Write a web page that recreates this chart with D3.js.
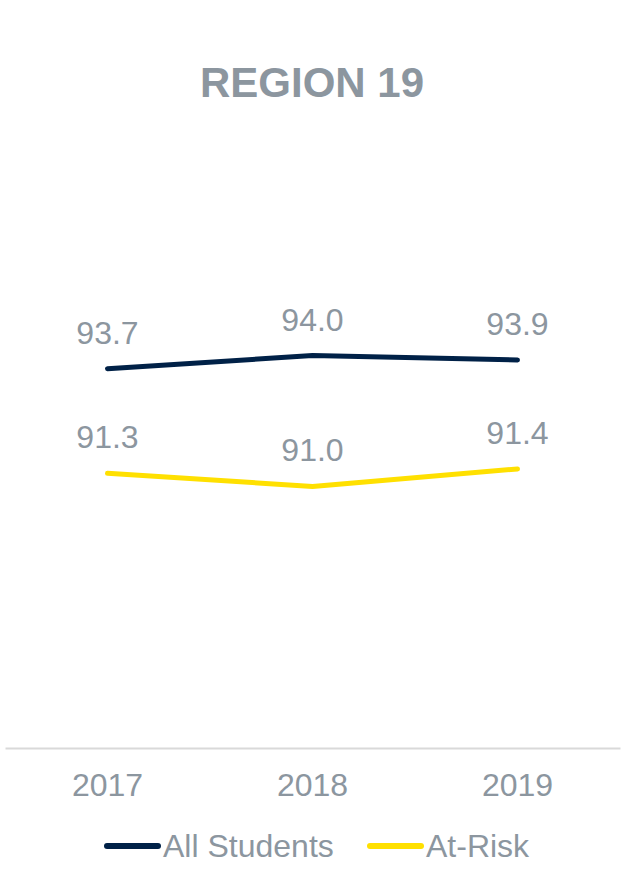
<!DOCTYPE html>
<html><head><meta charset="utf-8">
<script src="https://cdn.jsdelivr.net/npm/d3@7"></script>
<style>body{margin:0;background:#fff}svg{display:block}text{font-family:"Liberation Sans",Arial,sans-serif}</style>
</head><body>
<script>
const title = "REGION 19";
const years = ["2017","2018","2019"];
const allStudents = [93.7, 94.0, 93.9];
const atRisk = [91.3, 91.0, 91.4];
const seriesNames = ["All Students","At-Risk"];
const seriesColors = ["#002147","#FFE000"];

const W=638,H=876;
const svg=d3.select("body").append("svg").attr("width",W).attr("height",H);
const grey="#8C969F";
const x=d3.scaleBand().domain(years).range([5,620]);
const y=d3.scaleLinear().domain([85,100]).range([748,94]);

svg.append("text").attr("x",312).attr("y",97).attr("text-anchor","middle")
  .attr("font-size",42).attr("font-weight","bold").attr("fill",grey).text(title);

const axis=svg.append("g").attr("transform","translate(0,748)")
  .call(d3.axisBottom(x).tickSize(0).tickPadding(25));
axis.select(".domain").attr("stroke","#d9d9d9").attr("stroke-width",2);
axis.selectAll("text").attr("font-size",32).attr("fill",grey).attr("font-family","'Liberation Sans',Arial,sans-serif");

const series=[allStudents,atRisk];
const line=d3.line().x((d,i)=>x(years[i])+x.bandwidth()/2).y(d=>y(d));
series.forEach((s,k)=>{
  svg.append("path").datum(s).attr("d",line).attr("fill","none")
    .attr("stroke",seriesColors[k]).attr("stroke-width",5).attr("stroke-linecap","round").attr("stroke-linejoin","round");
  svg.selectAll(null).data(s).enter().append("text")
    .attr("x",(d,i)=>x(years[i])+x.bandwidth()/2).attr("y",d=>y(d)-25)
    .attr("text-anchor","middle").attr("font-size",32).attr("fill",grey)
    .text(d=>d.toFixed(1));
});

const legX=[107,370];
seriesNames.forEach((n,k)=>{
  const g=svg.append("g").attr("transform",`translate(${legX[k]},846)`);
  g.append("line").attr("x1",0).attr("x2",51).attr("stroke",seriesColors[k]).attr("stroke-width",6).attr("stroke-linecap","round");
  g.append("text").attr("x",56).attr("y",11).attr("font-size",32).attr("fill",grey).text(n);
});
</script>
</body></html>
